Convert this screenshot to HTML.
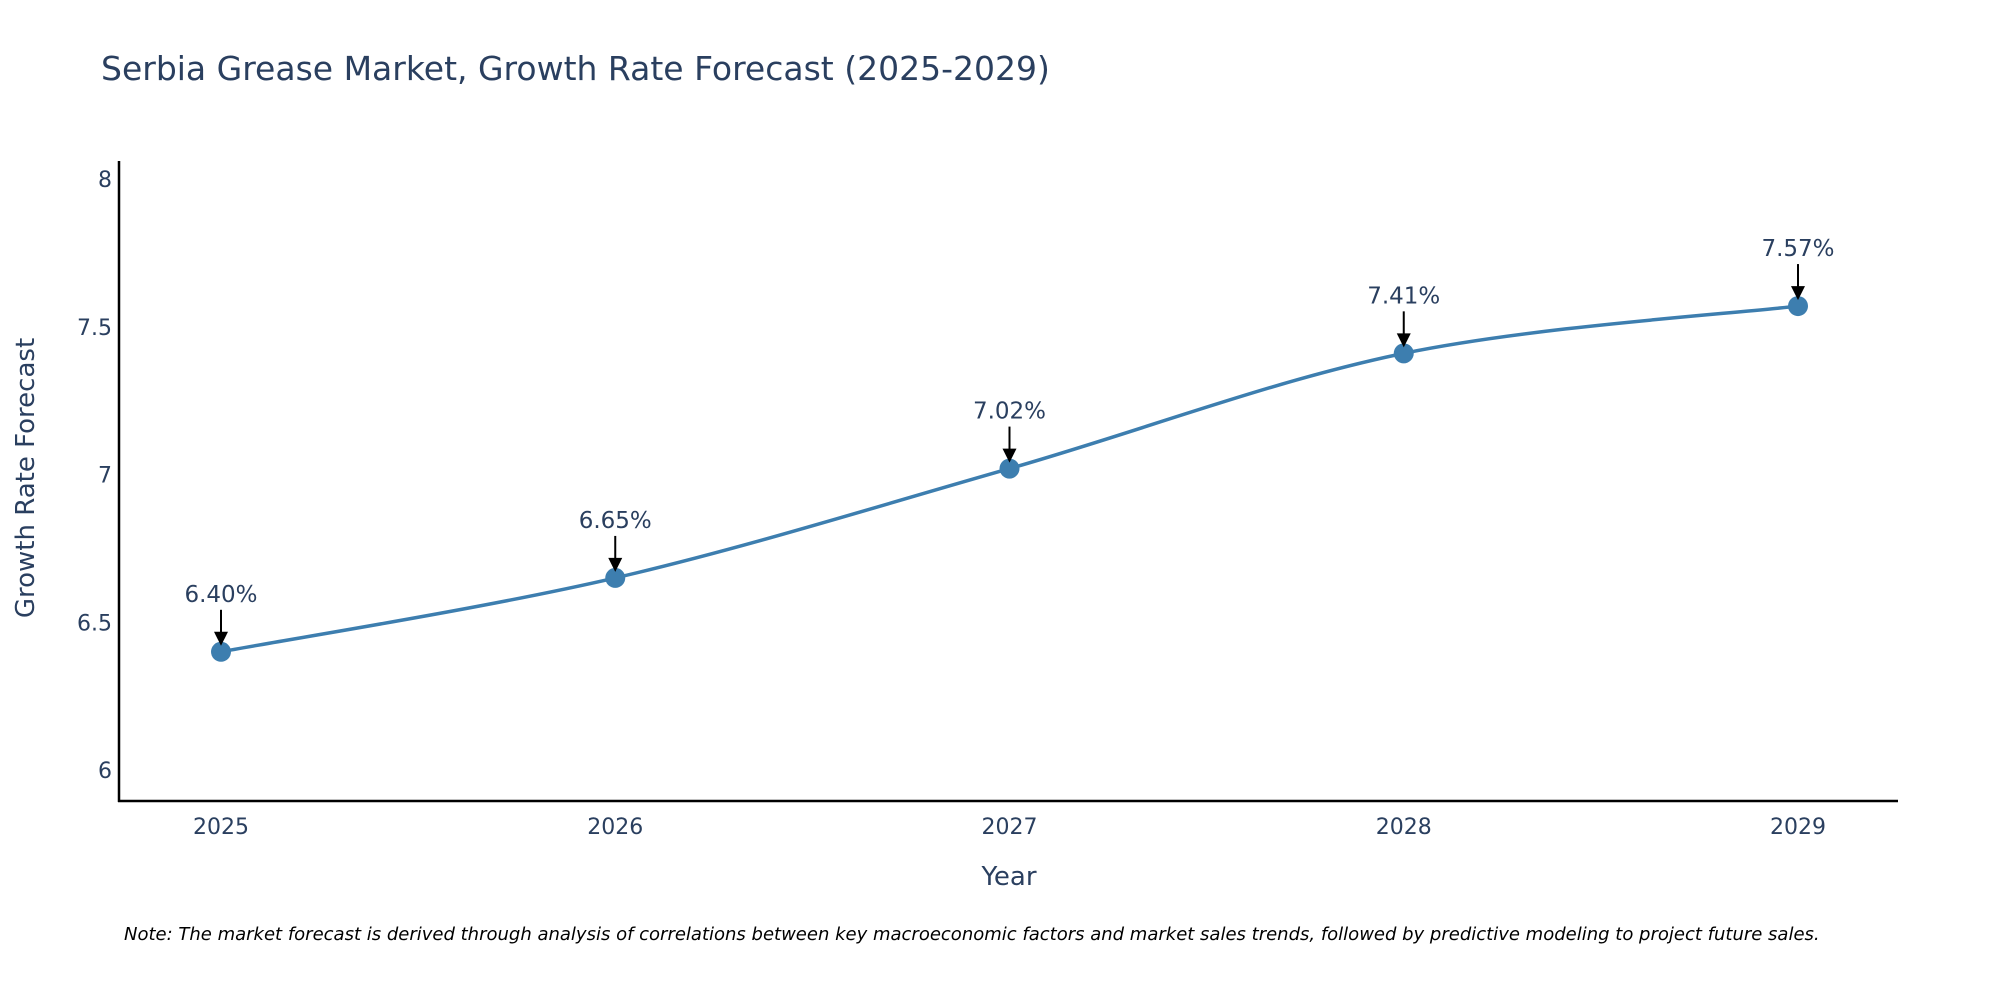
<!DOCTYPE html>
<html><head><meta charset="utf-8"><style>
body{margin:0;background:#fff;}
svg{display:block;font-family:"DejaVu Sans","Liberation Sans",sans-serif;}
</style></head><body>
<svg id="chart" width="2000" height="1000">
<text x="101" y="80" font-size="33" fill="#2a3f5f">Serbia Grease Market, Growth Rate Forecast (2025-2029)</text>
<line x1="119" y1="161" x2="119" y2="802" stroke="#000" stroke-width="2.5"/>
<line x1="118" y1="801" x2="1898" y2="801" stroke="#000" stroke-width="2.5"/>
<g id="yticks"></g><g id="xticks"></g>
<text transform="translate(34,478) rotate(-90)" text-anchor="middle" font-size="26" fill="#2a3f5f">Growth Rate Forecast</text>
<text x="1009" y="885" text-anchor="middle" font-size="26" fill="#2a3f5f">Year</text>
<path id="line" fill="none" stroke="#3d7eaf" stroke-width="3.5"/>
<g id="points"></g>
<text x="124" y="940" font-size="18" font-style="italic" fill="#000">Note: The market forecast is derived through analysis of correlations between key macroeconomic factors and market sales trends, followed by predictive modeling to project future sales.</text>
</svg>
<script>
const years = ["2025","2026","2027","2028","2029"];
const values = [6.40, 6.65, 7.02, 7.41, 7.57];
const labels = ["6.40%","6.65%","7.02%","7.41%","7.57%"];
const yTicks = [6, 6.5, 7, 7.5, 8];
const yTickLabels = ["6","6.5","7","7.5","8"];
const NS="http://www.w3.org/2000/svg";
function xs(i){return 221+i*(1798-221)/(years.length-1);}
function ys(v){return 770-(v-6)*295.5;}
const yt=document.getElementById('yticks');
yTicks.forEach((t,i)=>{const e=document.createElementNS(NS,'text');
e.setAttribute('x',112);e.setAttribute('y',ys(t)+8);e.setAttribute('text-anchor','end');
e.setAttribute('font-size','22');e.setAttribute('fill','#2a3f5f');e.textContent=yTickLabels[i];


yt.appendChild(e);});
const xt=document.getElementById('xticks');
years.forEach((y,i)=>{const e=document.createElementNS(NS,'text');
e.setAttribute('x',xs(i));e.setAttribute('y',834);e.setAttribute('text-anchor','middle');
e.setAttribute('font-size','22');e.setAttribute('fill','#2a3f5f');e.textContent=y;


xt.appendChild(e);});
const P=values.map((v,i)=>[xs(i),ys(v)]);
let d="M"+P[0][0]+","+P[0][1];
for(let i=0;i<P.length-1;i++){const p0=P[Math.max(0,i-1)],p1=P[i],p2=P[i+1],p3=P[Math.min(P.length-1,i+2)];const k=6;
d+=` C${p1[0]+(p2[0]-p0[0])/k},${p1[1]+(p2[1]-p0[1])/k} ${p2[0]-(p3[0]-p1[0])/k},${p2[1]-(p3[1]-p1[1])/k} ${p2[0]},${p2[1]}`;}
document.getElementById('line').setAttribute('d',d);
const g=document.getElementById('points');
P.forEach((p,i)=>{
const c=document.createElementNS(NS,'circle');c.setAttribute('cx',p[0]);c.setAttribute('cy',p[1]);c.setAttribute('r',10);c.setAttribute('fill','#3d7eaf');


g.appendChild(c);
const l=document.createElementNS(NS,'line');l.setAttribute('x1',p[0]);l.setAttribute('x2',p[0]);l.setAttribute('y1',p[1]-42);l.setAttribute('y2',p[1]-18);l.setAttribute('stroke','#000');l.setAttribute('stroke-width','2');


g.appendChild(l);
const a=document.createElementNS(NS,'path');a.setAttribute('d',`M${p[0]-7},${p[1]-20} L${p[0]+7},${p[1]-20} L${p[0]},${p[1]-6} Z`);a.setAttribute('fill','#000');


g.appendChild(a);
const t=document.createElementNS(NS,'text');t.setAttribute('x',p[0]);t.setAttribute('y',p[1]-50);t.setAttribute('text-anchor','middle');t.setAttribute('font-size','23');t.setAttribute('fill','#2a3f5f');t.textContent=labels[i];


g.appendChild(t);
});
</script>
</body></html>
